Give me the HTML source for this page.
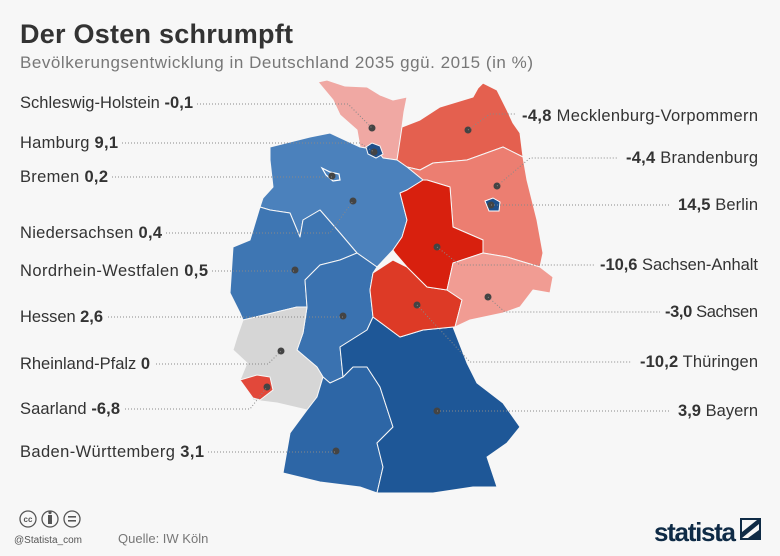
<!DOCTYPE html>
<html><head><meta charset="utf-8"><style>
body{margin:0;background:#f7f7f7;}
svg{display:block;font-family:"Liberation Sans",sans-serif;}
</style></head><body>
<svg width="780" height="556" viewBox="0 0 780 556">
<rect width="780" height="556" fill="#f7f7f7"/>
<text x="20" y="43" font-size="27" font-weight="bold" fill="#333" textLength="273">Der Osten schrumpft</text>
<text x="20" y="68" font-size="17" fill="#777" textLength="513">Bevölkerungsentwicklung in Deutschland 2035 ggü. 2015 (in %)</text>
<g stroke="#f7f7f7" stroke-width="1" stroke-linejoin="round">
<polygon fill="#f0a8a3" points="318,82 327,80 345,86 367,87 380,95 393,100 407,97 404,112 402,127 400,145 397,160 383,158 377,150 360,147 357,130 340,115 333,100"/>
<polygon fill="#e4604f" points="397,160 402,127 420,120 440,107 473,97 478,88 483,83 497,90 507,110 513,123 520,133 523,157 503,147 467,160 433,163 420,170 407,167"/>
<polygon fill="#ec7e71" points="407,167 420,170 433,163 467,160 503,147 523,157 527,180 537,220 543,253 540,267 507,257 483,253 483,240 453,227 450,187 427,180 423,180"/>
<polygon fill="#4b81bc" points="270,147 290,142 310,137 330,133 360,147 377,150 383,158 397,160 407,167 423,180 407,190 400,193 407,220 402,237 393,250 377,267 357,253 340,233 320,210 303,220 300,237 290,213 270,210 260,207 263,198 273,187 270,160"/>
<polygon fill="#3e76b3" points="260,207 270,210 290,213 300,237 303,220 320,210 340,233 357,253 340,260 320,265 305,280 307,307 297,307 243,320 240,313 230,293 233,247 250,240"/>
<polygon fill="#3a72b0" points="357,253 377,267 373,273 370,290 373,317 367,330 340,347 343,377 330,383 323,377 317,367 297,350 303,333 307,307 305,280 320,265 340,260"/>
<polygon fill="#d6d6d6" points="243,320 297,307 307,307 303,333 297,350 317,367 323,377 317,397 307,410 277,403 253,400 240,380 247,363 233,350 237,337"/>
<polygon fill="#e2483a" points="240,380 257,375 270,377 273,390 260,400 253,398"/>
<polygon fill="#2d66a6" points="330,383 343,377 353,367 367,367 380,387 393,427 377,443 383,467 377,493 360,487 320,482 283,473 290,433 307,410 317,397 323,377"/>
<polygon fill="#1e5797" points="373,317 400,337 423,330 453,327 467,363 477,383 503,403 520,427 507,443 487,457 497,487 473,487 433,493 377,493 383,467 377,443 393,427 380,387 367,367 353,367 343,377 340,347 367,330"/>
<polygon fill="#dd3a26" points="373,273 393,260 407,267 427,287 447,290 462,300 455,327 453,327 423,330 400,337 373,317 370,290"/>
<polygon fill="#d8200e" points="407,190 400,193 407,220 402,237 393,250 395,253 407,267 427,287 447,290 453,263 483,253 483,240 453,227 450,187 427,180 423,180"/>
<polygon fill="#f19c93" points="453,263 483,253 507,257 540,267 553,277 550,293 533,290 520,307 503,313 470,320 455,327 462,300 447,290"/>
</g>
<polygon fill="#1f4f8a" stroke="#f7f7f7" points="366,147 372,143 380,146 383,154 376,158 368,154"/>
<polygon fill="#4b81bc" stroke="#fff" stroke-width="1.2" points="322,168 330,172 339,174 340,180 333,181 326,175"/>
<polygon fill="#1d4f8c" stroke="#fff" points="485,201 493,198 500,202 499,211 489,211"/>
<g fill="#444">
<circle cx="372" cy="128" r="3.5"/><circle cx="374" cy="152" r="3.5"/><circle cx="332" cy="176" r="3.5"/><circle cx="353" cy="201" r="3.5"/><circle cx="295" cy="270" r="3.5"/><circle cx="343" cy="316" r="3.5"/><circle cx="281" cy="351" r="3.5"/><circle cx="267" cy="387" r="3.5"/><circle cx="336" cy="451" r="3.5"/><circle cx="468" cy="130" r="3.5"/><circle cx="497" cy="186" r="3.5"/><circle cx="491" cy="205" r="3.5"/><circle cx="437" cy="247" r="3.5"/><circle cx="488" cy="297" r="3.5"/><circle cx="417" cy="305" r="3.5"/><circle cx="437" cy="411" r="3.5"/>
</g>
<g stroke="#888" stroke-width="1" stroke-dasharray="1,2" fill="none">
<polyline points="197,104 348,104 372,128"/>
<polyline points="122,143 360,143 374,152"/>
<polyline points="112,177 332,177"/>
<polyline points="166,233 330,233 353,201"/>
<polyline points="212,271 295,271"/>
<polyline points="108,317 343,317"/>
<polyline points="156,364 268,364 281,351"/>
<polyline points="125,409 250,409 267,387"/>
<polyline points="208,452 336,452"/>
<polyline points="468,130 490,114 515,114"/>
<polyline points="497,186 530,158 618,158"/>
<polyline points="491,205 670,205"/>
<polyline points="437,247 460,265 595,265"/>
<polyline points="488,297 505,312 660,312"/>
<polyline points="417,305 470,362 632,362"/>
<polyline points="437,411 670,411"/>
</g>
<g font-size="16.5" fill="#333">
<text x="20" y="108" textLength="173">Schleswig-Holstein <tspan font-weight="bold">-0,1</tspan></text>
<text x="20" y="148" textLength="98">Hamburg <tspan font-weight="bold">9,1</tspan></text>
<text x="20" y="182" textLength="88">Bremen <tspan font-weight="bold">0,2</tspan></text>
<text x="20" y="238" textLength="142">Niedersachsen <tspan font-weight="bold">0,4</tspan></text>
<text x="20" y="276" textLength="188">Nordrhein-Westfalen <tspan font-weight="bold">0,5</tspan></text>
<text x="20" y="322" textLength="83">Hessen <tspan font-weight="bold">2,6</tspan></text>
<text x="20" y="369" textLength="130">Rheinland-Pfalz <tspan font-weight="bold">0</tspan></text>
<text x="20" y="414" textLength="100">Saarland <tspan font-weight="bold">-6,8</tspan></text>
<text x="20" y="457" textLength="184">Baden-Württemberg <tspan font-weight="bold">3,1</tspan></text>
</g>
<g font-size="16.5" fill="#333">
<text x="522" y="121" textLength="236"><tspan font-weight="bold">-4,8</tspan> Mecklenburg-Vorpommern</text>
<text x="626" y="163" textLength="132"><tspan font-weight="bold">-4,4</tspan> Brandenburg</text>
<text x="678" y="210" textLength="80"><tspan font-weight="bold">14,5</tspan> Berlin</text>
<text x="600" y="270" textLength="158"><tspan font-weight="bold">-10,6</tspan> Sachsen-Anhalt</text>
<text x="665" y="317" textLength="93"><tspan font-weight="bold">-3,0</tspan> Sachsen</text>
<text x="640" y="367" textLength="118"><tspan font-weight="bold">-10,2</tspan> Thüringen</text>
<text x="678" y="416" textLength="80"><tspan font-weight="bold">3,9</tspan> Bayern</text>
</g>
<g fill="none" stroke="#555" stroke-width="1.3">
<circle cx="28" cy="519" r="8"/><circle cx="50" cy="519" r="8"/><circle cx="72" cy="519" r="8"/>
</g>
<text x="28" y="522" font-size="8" font-weight="bold" fill="#555" text-anchor="middle">cc</text>
<rect x="48" y="515" width="4" height="9" fill="#555"/><circle cx="50" cy="512.5" r="1.6" fill="#555"/>
<rect x="68" y="516" width="8" height="1.6" fill="#555"/><rect x="68" y="520" width="8" height="1.6" fill="#555"/>
<text x="14" y="543" font-size="10" fill="#555">@Statista_com</text>
<text x="118" y="543" font-size="13" fill="#777">Quelle: IW Köln</text>
<text x="654" y="541" font-size="26" font-weight="bold" fill="#0f2b46" textLength="82">statista</text>
<rect x="740" y="518" width="21" height="22" fill="#0f2b46"/>
<path d="M742 538 L759 524 L759 530 L748 538 Z M742 520 L757 520 L742 532 Z" fill="#f7f7f7"/>
</svg>
</body></html>
